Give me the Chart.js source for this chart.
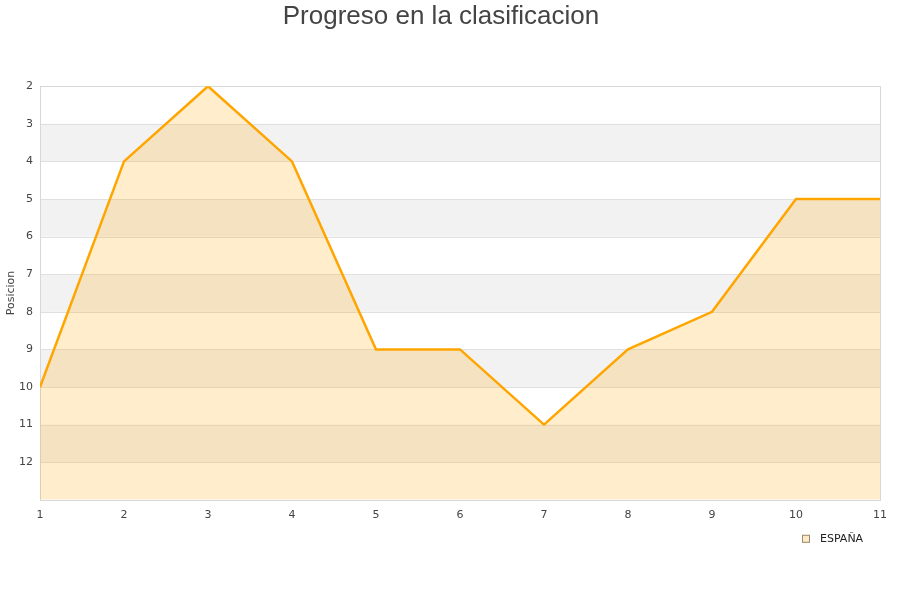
<!DOCTYPE html>
<html>
<head>
<meta charset="utf-8">
<script src="https://cdn.jsdelivr.net/npm/chart.js@4"></script>
<style>
  html, body { margin: 0; padding: 0; background: #fff; }
  #wrap { width: 900px; height: 600px; position: relative; }
</style>
</head>
<body>
<div id="wrap"><canvas id="chart"></canvas></div>
<script>
// Data
const jornadas = [1, 2, 3, 4, 5, 6, 7, 8, 9, 10, 11];
const posicion = [10, 4, 2, 4, 9, 9, 11, 9, 8, 5, 5];
const yTicks = [2, 3, 4, 5, 6, 7, 8, 9, 10, 11, 12];
const grayBands = [[3, 4], [5, 6], [7, 8], [9, 10], [11, 12]];
const serie = "ESPAÑA";

// Bands + border behind the area
const bands = {
  id: "bands",
  beforeDatasetsDraw(chart) {
    const { ctx, chartArea: a, scales: { y } } = chart;
    ctx.save();
    ctx.fillStyle = "#f2f2f2";
    grayBands.forEach(([from, to]) => {
      const y1 = y.getPixelForValue(from), y2 = y.getPixelForValue(to);
      ctx.fillRect(a.left, Math.min(y1, y2), a.right - a.left, Math.abs(y2 - y1));
    });
    ctx.strokeStyle = "#e0e0e0";
    ctx.lineWidth = 1;
    yTicks.forEach(v => {
      const py = Math.round(y.getPixelForValue(v)) + 0.5;
      ctx.beginPath();
      ctx.moveTo(a.left, py);
      ctx.lineTo(a.right, py);
      ctx.stroke();
    });
    ctx.strokeStyle = "#d8d8d8";
    ctx.strokeRect(Math.round(a.left) + 0.5, Math.round(a.top) + 0.5, Math.round(a.right - a.left), Math.round(a.bottom - a.top));
    ctx.restore();
  }
};

// Legend under the bottom-right corner of the plot
const legendBox = {
  id: "legendBox",
  afterDraw(chart) {
    const { ctx, chartArea: a } = chart;
    const bx = a.right - 78, by = a.bottom + 35;
    ctx.save();
    ctx.fillStyle = "#fde9c8";
    ctx.fillRect(bx, by, 8, 8);
    ctx.strokeStyle = "#9a8a70";
    ctx.lineWidth = 1;
    ctx.strokeRect(bx + 0.5, by + 0.5, 7, 7);
    ctx.fillStyle = "#222";
    ctx.font = "11px 'DejaVu Sans'";
    ctx.textBaseline = "middle";
    ctx.fillText(serie, bx + 18, by + 4.5);
    ctx.restore();
  }
};

const ctx = document.getElementById("chart").getContext("2d");
new Chart(ctx, {
  type: "line",
  data: {
    datasets: [{
      label: serie,
      data: jornadas.map((j, i) => ({ x: j, y: posicion[i] })),
      borderColor: "#ffa500",
      backgroundColor: "rgba(255,165,0,0.2)",
      borderWidth: 2.5,
      fill: { value: 13 },
      tension: 0,
      pointRadius: 0,
    }],
  },
  options: {
    responsive: true,
    maintainAspectRatio: false,
    animation: false,
    layout: { padding: { left: 2, right: 20, top: 0, bottom: 69 } },
    plugins: {
      title: {
        display: true,
        text: "Progreso en la clasificacion",
        color: "#444",
        font: { family: "Liberation Sans", size: 26, weight: "normal" },
        padding: { top: 1, bottom: 54 },
      },
      legend: { display: false },
      tooltip: { enabled: false },
    },
    scales: {
      x: {
        type: "linear",
        min: 1,
        max: 11,
        grid: { display: false, drawTicks: false },
        border: { display: false },
        ticks: {
          stepSize: 1,
          color: "#444",
          font: { family: "DejaVu Sans", size: 11 },
          padding: 9,
        },
      },
      y: {
        reverse: true,
        min: 2,
        max: 13,
        grid: { display: false, drawTicks: false },
        border: { display: false },
        title: {
          display: true,
          text: "Posicion",
          color: "#444",
          font: { family: "DejaVu Sans", size: 11 },
          padding: 3,
        },
        afterBuildTicks: axis => {
          axis.ticks = yTicks.map(v => ({ value: v }));
        },
        afterFit: axis => {
          axis.width = 38;
        },
        ticks: {
          color: "#444",
          font: { family: "DejaVu Sans", size: 11 },
          padding: 7,
        },
      },
    },
  },
  plugins: [bands, legendBox],
});
</script>
</body>
</html>
